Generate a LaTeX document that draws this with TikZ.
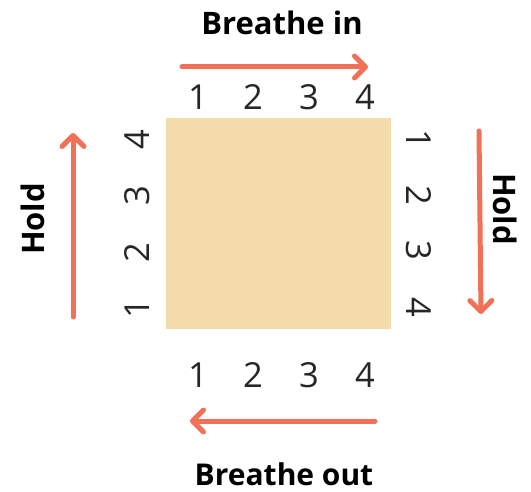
\documentclass[tikz,border=0pt]{standalone}
\usepackage{fontspec}
\setmainfont{Open Sans}
\usetikzlibrary{arrows.meta}
\definecolor{sq}{HTML}{F3DCAA}
\definecolor{arr}{HTML}{F07158}
\tikzset{
  digit/.style={inner sep=0pt, font=\fontsize{34.5}{38}\selectfont, text=black!85},
  lbl/.style={inner sep=0pt, font=\fontsize{31}{34}\selectfont\bfseries},
  breath/.style={draw=arr, line width=5pt, line cap=round,
    -{Straight Barb[length=11pt,width=22pt,line width=5pt,round]}}
}
\begin{document}
\begin{tikzpicture}[x=1pt,y=-1pt]
\useasboundingbox (0,0) rectangle (531,492);
\fill[sq] (166,118) rectangle (391,329);
% top
\node[lbl] (tin) at (282,23) {Breathe in};
\coordinate (ta) at (182,67); \coordinate (tb) at (368,67);
\draw[breath] (ta) -- (tb);
\foreach \d/\x in {1/198,2/253,3/309,4/365} \node[digit] (t\d) at (\x,97) {\d};
% bottom
\foreach \d/\x in {1/198,2/253,3/309,4/365} \node[digit] (b\d) at (\x,375) {\d};
\coordinate (ba) at (375,421); \coordinate (bb) at (190,421);
\draw[breath] (ba) -- (bb);
\node[lbl, font=\fontsize{30}{33}\selectfont\bfseries] (tout) at (284,474) {Breathe out};
% left
\node[lbl, rotate=90] (hl) at (33,219) {Hold};
\coordinate (la) at (73,317); \coordinate (lb) at (73,133);
\draw[breath] (la) -- (lb);
\foreach \d/\y in {1/309,2/253,3/196,4/140} \node[digit, rotate=90] (l\d) at (137,\y) {\d};
% right
\foreach \d/\y in {1/139,2/195,3/250,4/307} \node[digit, rotate=-90] (r\d) at (419,\y) {\d};
\coordinate (ra) at (479,131); \coordinate (rb) at (481,314);
\draw[breath] (ra) -- (rb);
\node[lbl, rotate=-90] (hr) at (505,209) {Hold};
\end{tikzpicture}
\end{document}
